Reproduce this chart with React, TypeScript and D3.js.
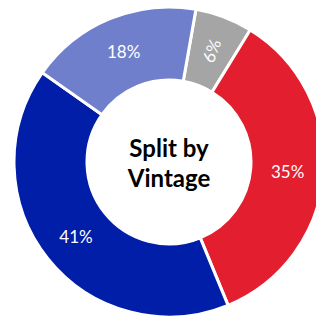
import React, { useEffect, useRef } from "react";
import * as d3 from "d3";

const labels = ["6%", "35%", "41%", "18%"];
const values = [6, 35, 41, 18];
const colors = ["#A5A5A5", "#E31E2F", "#001EA8", "#707FCC"];
const title = ["Split by", "Vintage"];

const width = 316;
const height = 318;
const cx = 169;
const cy = 162;
const outerR = 155;
const innerR = 82;
const labelR = 119;

const App = () => {
  const ref = useRef<SVGGElement>(null);

  useEffect(() => {
    const pie = d3
      .pie<number>()
      .value((d) => d)
      .sort(null)
      .startAngle((10 * Math.PI) / 180)
      .endAngle((10 * Math.PI) / 180 + 2 * Math.PI);
    const arc = d3.arc<d3.PieArcDatum<number>>().innerRadius(innerR).outerRadius(outerR);
    const labelArc = d3.arc<d3.PieArcDatum<number>>().innerRadius(labelR).outerRadius(labelR);
    const arcs = pie(values);
    const g = d3.select(ref.current);
    g.selectAll("*").remove();

    g.selectAll("path.slice")
      .data(arcs)
      .enter()
      .append("path")
      .attr("class", "slice")
      .attr("d", arc)
      .attr("fill", (d, i) => colors[i])
      .attr("stroke", "#fff")
      .attr("stroke-width", 3);

    g.selectAll("text.lbl")
      .data(arcs)
      .enter()
      .append("text")
      .attr("class", "lbl")
      .attr("text-anchor", "middle")
      .attr("dominant-baseline", "central")
      .attr("transform", (d, i) => {
        const [x, y] = labelArc.centroid(d);
        const mid = ((d.startAngle + d.endAngle) / 2) * (180 / Math.PI);
        // small slice gets rotated along its radius
        const rot = i === 0 ? mid - 90 : 0;
        return `translate(${x},${y}) rotate(${rot})`;
      })
      .style("fill", "#fff")
      .style("font-family", "Lato, 'Open Sans', sans-serif")
      .style("font-size", "17px")
      .text((d, i) => labels[i]);

    const t = g
      .append("text")
      .attr("text-anchor", "middle")
      .style("font-family", "Lato, 'Open Sans', sans-serif")
      .style("font-weight", "bold")
      .style("font-size", "24px")
      .style("fill", "#000");
    title.forEach((line, i) => {
      t.append("tspan")
        .attr("x", 0)
        .attr("y", -15 + i * 30)
        .attr("dominant-baseline", "central")
        .text(line);
    });
  }, []);

  return (
    <svg
      width={width}
      height={height}
      style={{ position: "absolute", left: 0, top: 0, background: "#fff" }}
    >
      <g ref={ref} transform={`translate(${cx} ${cy})`} />
    </svg>
  );
};

export default App;
